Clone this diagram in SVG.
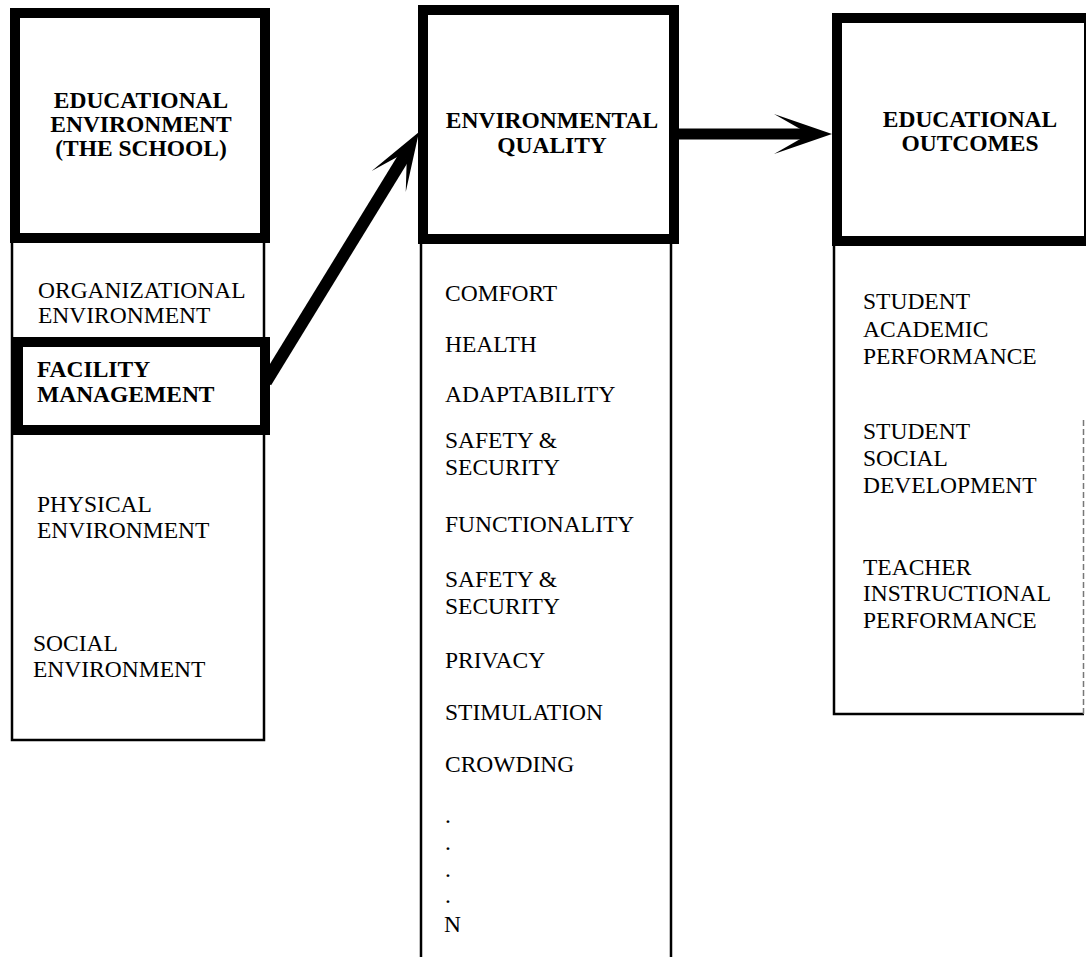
<svg xmlns="http://www.w3.org/2000/svg" width="1086" height="957" viewBox="0 0 1086 957">
<style>
.thick{fill:none;stroke:#000;stroke-width:10}
.thin{fill:none;stroke:#000;stroke-width:2.5}
.t{font-family:"Liberation Serif","Times New Roman",serif;font-size:23.5px;fill:#000}
.b{font-family:"Liberation Serif","Times New Roman",serif;font-size:23.5px;font-weight:bold;fill:#000}
.c{text-anchor:middle}
.shaft{stroke:#000;fill:none;stroke-linecap:butt}
</style>
<defs>
<path id="head" d="M0,0 L-58,-20 L-30,-4 L-30,4 L-58,20 Z" fill="#000"/>
</defs>
<rect width="1086" height="957" fill="#fff"/>

<g id="school">
<rect class="thick" x="15" y="13" width="250" height="225"/>
<path class="thin" d="M12,243 V740 H264 V243"/>
<text class="b c" x="141" y="108">EDUCATIONAL</text>
<text class="b c" x="141" y="132">ENVIRONMENT</text>
<text class="b c" x="141" y="156">(THE SCHOOL)</text>
<text class="t" x="38" y="298">ORGANIZATIONAL</text>
<text class="t" x="38" y="323">ENVIRONMENT</text>
<text class="t" x="37" y="512">PHYSICAL</text>
<text class="t" x="37" y="538">ENVIRONMENT</text>
<text class="t" x="33" y="651">SOCIAL</text>
<text class="t" x="33" y="677">ENVIRONMENT</text>
</g>

<g id="facility">
<rect class="thick" x="18" y="342" width="247" height="88"/>
<text class="b" x="37" y="377">FACILITY</text>
<text class="b" x="37" y="402">MANAGEMENT</text>
</g>

<g id="quality">
<rect class="thick" x="423" y="10" width="251" height="229"/>
<path class="thin" d="M421,244 V957 M671,244 V957"/>
<text class="b c" x="552" y="128">ENVIRONMENTAL</text>
<text class="b c" x="552" y="153">QUALITY</text>
<text class="t" x="445" y="301">COMFORT</text>
<text class="t" x="445" y="352">HEALTH</text>
<text class="t" x="445" y="402">ADAPTABILITY</text>
<text class="t" x="445" y="448">SAFETY &amp;</text>
<text class="t" x="445" y="475">SECURITY</text>
<text class="t" x="445" y="532">FUNCTIONALITY</text>
<text class="t" x="445" y="587">SAFETY &amp;</text>
<text class="t" x="445" y="614">SECURITY</text>
<text class="t" x="445" y="668">PRIVACY</text>
<text class="t" x="445" y="720">STIMULATION</text>
<text class="t" x="445" y="772">CROWDING</text>
<text class="t" x="445" y="823">.</text>
<text class="t" x="445" y="850">.</text>
<text class="t" x="445" y="877">.</text>
<text class="t" x="445" y="903">.</text>
<text class="t" x="444" y="932">N</text>
</g>

<g id="outcomes">
<rect class="thick" x="837" y="18" width="252" height="223"/>
<path class="thin" d="M834,246 V714 H1084"/>
<path d="M1083.5,420 V714" stroke="#777" stroke-width="1.5" stroke-dasharray="6,3" fill="none"/>
<text class="b c" x="970" y="127">EDUCATIONAL</text>
<text class="b c" x="970" y="151">OUTCOMES</text>
<text class="t" x="863" y="309">STUDENT</text>
<text class="t" x="863" y="337">ACADEMIC</text>
<text class="t" x="863" y="364">PERFORMANCE</text>
<text class="t" x="863" y="439">STUDENT</text>
<text class="t" x="863" y="466">SOCIAL</text>
<text class="t" x="863" y="493">DEVELOPMENT</text>
<text class="t" x="863" y="575">TEACHER</text>
<text class="t" x="863" y="601">INSTRUCTIONAL</text>
<text class="t" x="863" y="628">PERFORMANCE</text>
</g>

<g id="connectors">
<line class="shaft" x1="266" y1="382" x2="404" y2="157" stroke-width="12"/>
<use href="#head" transform="translate(419,132) rotate(-58.5)"/>
<line class="shaft" x1="679" y1="134" x2="803" y2="134" stroke-width="11"/>
<use href="#head" transform="translate(832,134)"/>
</g>
</svg>
